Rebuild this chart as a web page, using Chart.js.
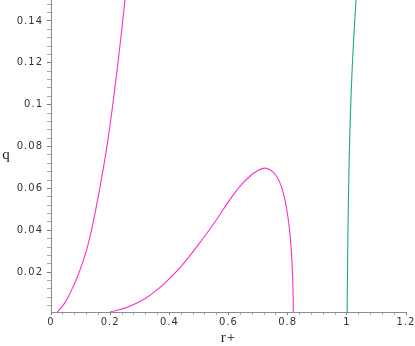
<!DOCTYPE html>
<html>
<head>
<meta charset="utf-8">
<script src="https://cdn.jsdelivr.net/npm/chart.js"></script>
<style>
  body { margin: 0; background: #fff; }
  #plot { display: block; }
</style>
</head>
<body>
<canvas id="plot" width="415" height="346"></canvas>
<script>
// r+ and q values
const rLeft = [0.021, 0.042, 0.059, 0.075, 0.092, 0.109, 0.123, 0.138, 0.158, 0.188, 0.216, 0.237, 0.250];
const qLeft = [0.001, 0.0044, 0.0084, 0.0132, 0.0188, 0.0255, 0.032, 0.0408, 0.0549, 0.079, 0.108, 0.133, 0.150];

const rHump = [0.199, 0.26, 0.32, 0.38, 0.44, 0.50, 0.56, 0.60, 0.64, 0.68, 0.70, 0.72,
               0.735, 0.75, 0.765, 0.778, 0.79, 0.80, 0.808, 0.813, 0.8165, 0.8183, 0.819];
const qHump = [0.001, 0.0034, 0.0076, 0.0142, 0.0228, 0.0335, 0.0452, 0.0537, 0.0612, 0.0668, 0.0686, 0.0697,
               0.0693, 0.0679, 0.0652, 0.0612, 0.055, 0.0472, 0.038, 0.029, 0.019, 0.0095, 0.001];

const rGreen = [1.001, 1.003, 1.006, 1.011, 1.019, 1.031];
const qGreen = [0.001, 0.03, 0.06, 0.09, 0.12, 0.15];

const xMajor = [0, 0.2, 0.4, 0.6, 0.8, 1, 1.2];
const yMajor = [0.02, 0.04, 0.06, 0.08, 0.1, 0.12, 0.14];

function pairs(xs, ys) {
  return xs.map((x, i) => ({ x: x, y: ys[i] }));
}

function isMajor(list, v) {
  return list.some(m => Math.abs(m - v) < 1e-6);
}

const magenta = '#ff2fc4';
const green = '#1fae6a';

function curve(xs, ys, color) {
  return {
    data: pairs(xs, ys),
    showLine: true,
    borderColor: color,
    borderWidth: 1.1,
    pointRadius: 0,
    fill: false,
    tension: 0.35
  };
}

// spaced-out tick lettering like the original plot, plus the upright "q"
const spacing = {
  id: 'spacing',
  beforeDraw(chart) { chart.ctx.letterSpacing = '1px'; },
  afterDraw(chart) {
    const ctx = chart.ctx;
    ctx.letterSpacing = '0px';
    ctx.save();
    ctx.fillStyle = '#222';
    ctx.font = '15px "Liberation Serif"';
    ctx.textAlign = 'center';
    ctx.textBaseline = 'middle';
    ctx.fillText('q', 6, 155);
    ctx.restore();
  }
};

new Chart(document.getElementById('plot'), {
  type: 'scatter',
  data: {
    datasets: [
      curve(rLeft, qLeft, magenta),
      curve(rHump, qHump, magenta),
      curve(rGreen, qGreen, green)
    ]
  },
  options: {
    responsive: false,
    animation: false,
    layout: { padding: { left: 0, right: 9, top: 0, bottom: 0 } },
    plugins: { legend: { display: false }, tooltip: { enabled: false } },
    scales: {
      x: {
        type: 'linear',
        min: 0,
        max: 1.2,
        border: { display: true, color: '#8a8a8a', width: 1 },
        grid: {
          drawOnChartArea: false,
          drawTicks: true,
          tickLength: 3,
          tickColor: ctx => isMajor(xMajor, ctx.tick.value) ? '#777' : '#aaa'
        },
        ticks: {
          stepSize: 0.04,
          autoSkip: false,
          maxRotation: 0,
          padding: 1,
          color: '#333',
          font: { family: 'DejaVu Sans', size: 10 },
          callback: v => isMajor(xMajor, v) ? String(Math.round(v * 10) / 10) : ''
        },
        title: {
          display: true,
          text: 'r+',
          color: '#222',
          padding: 0,
          font: { family: 'Liberation Serif', size: 15, lineHeight: 1 }
        },
        afterFit: s => { s.height = 34; s.paddingLeft = 0; s.paddingRight = 0; }
      },
      y: {
        type: 'linear',
        min: 0.001,
        max: 0.15,
        border: { display: true, color: '#8a8a8a', width: 1 },
        grid: {
          drawOnChartArea: false,
          drawTicks: true,
          tickLength: 4,
          tickColor: ctx => isMajor(yMajor, ctx.tick.value) ? '#777' : '#aaa'
        },
        ticks: {
          stepSize: 0.004,
          includeBounds: false,
          autoSkip: false,
          padding: 4,
          color: '#333',
          font: { family: 'DejaVu Sans', size: 10 },
          callback: v => isMajor(yMajor, v) ? String(Math.round(v * 100) / 100) : ''
        },
        afterFit: s => { s.width = 51; s.paddingTop = 0; s.paddingBottom = 0; }
      }
    }
  },
  plugins: [spacing]
});
</script>
</body>
</html>
